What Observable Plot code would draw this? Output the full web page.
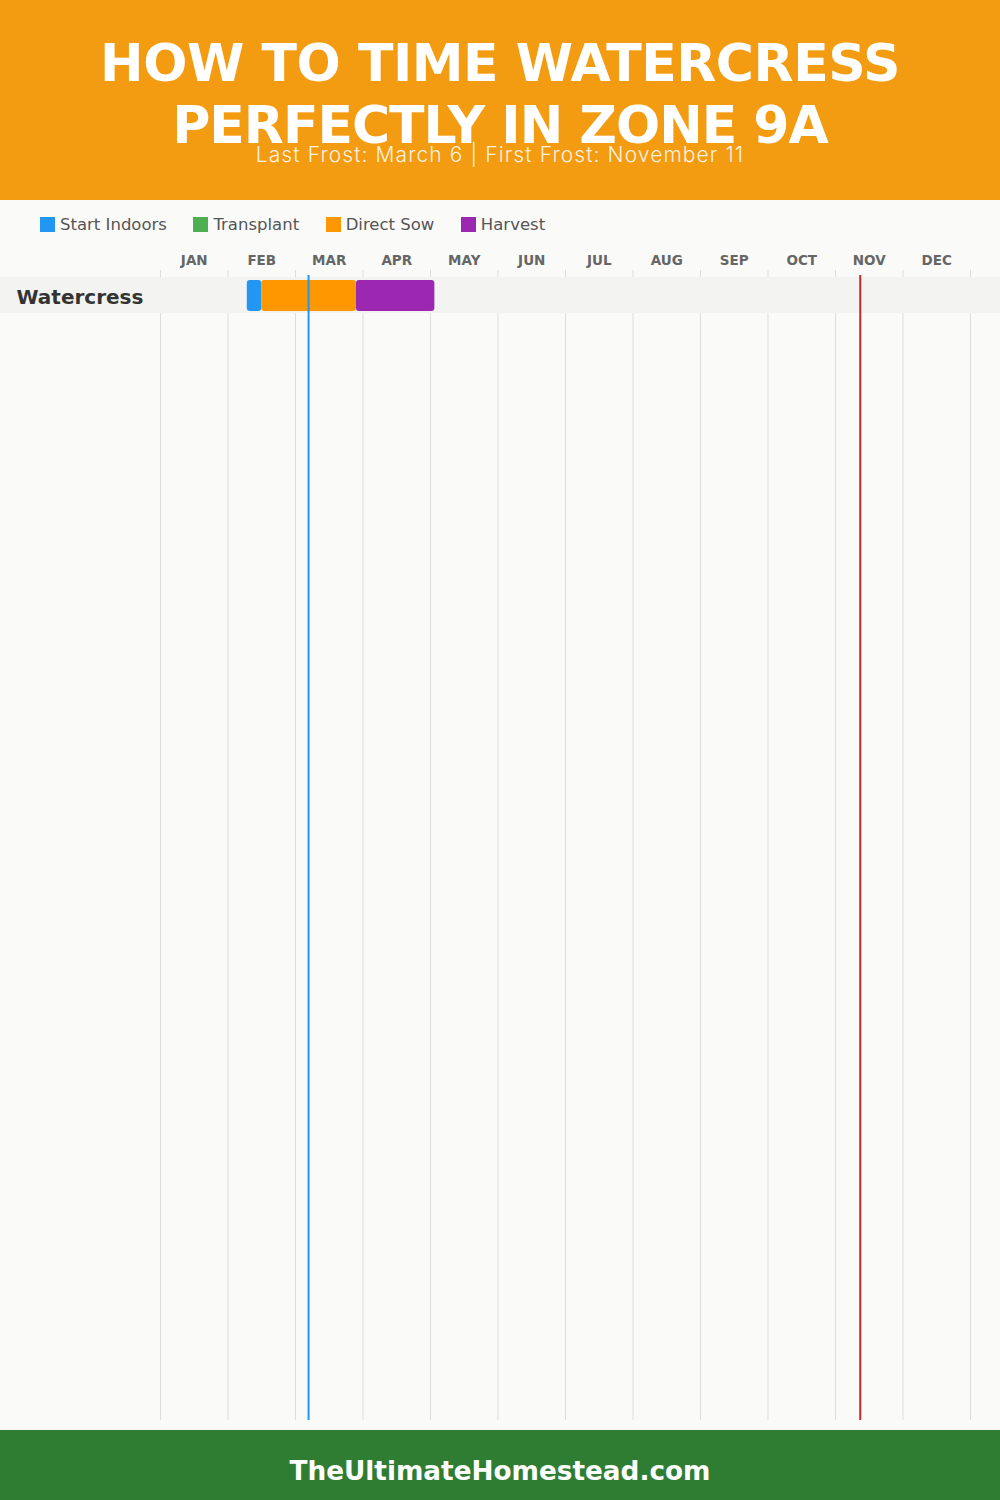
<!DOCTYPE html>
<html>
<head>
<meta charset="utf-8">
<script src="https://cdn.jsdelivr.net/npm/d3@7"></script>
<script src="https://cdn.jsdelivr.net/npm/@observablehq/plot@0.6"></script>
<style>
  html, body { margin: 0; padding: 0; background: #fafaf9; }
  #page { width: 1000px; }
  #header { position: relative; height: 200px; background: #F39C12; }
  .tl { position: absolute; left: 0; right: 0; text-align: center;
    font-family: "DejaVu Sans"; font-weight: bold; font-size: 52px; line-height: 40px;
    color: #fff; white-space: nowrap; }
  #t1 { top: 43px; letter-spacing: -0.45px; }
  #t2 { top: 105px; letter-spacing: -1px; }
  #subtitle { position: absolute; top: 146px; left: 0; right: 0; text-align: center;
    font-family: "Inter"; font-weight: 300; font-size: 21px; line-height: 18px; letter-spacing: 1.1px;
    color: rgba(255,255,255,0.88); white-space: nowrap; }
  #legend { height: 50px; box-sizing: border-box; padding: 17px 0 0 40px; display: flex; gap: 26.5px;
    font-family: "DejaVu Sans"; font-size: 16.5px; color: #555; }
  .item { display: flex; align-items: center; height: 15px; }
  .sw { width: 15px; height: 15px; margin-right: 5px; }
  #chart svg { display: block; }
  #footer { height: 70px; background: #2E7D32; color: #fff; text-align: center;
    font-family: "DejaVu Sans"; font-weight: bold; font-size: 26.3px; line-height: 70px; }
  #footer span { position: relative; top: 6px; }
</style>
</head>
<body>
<div id="page">
  <div id="header">
    <div class="tl" id="t1">HOW TO TIME WATERCRESS</div>
    <div class="tl" id="t2">PERFECTLY IN ZONE 9A</div>
    <div id="subtitle">Last Frost: March 6 | First Frost: November 11</div>
  </div>
  <div id="legend"></div>
  <div id="chart"></div>
  <div id="footer"><span>TheUltimateHomestead.com</span></div>
</div>
<script>
// ---- data ----
const months = ["JAN","FEB","MAR","APR","MAY","JUN","JUL","AUG","SEP","OCT","NOV","DEC"];
const daysInMonth = [31,28,31,30,31,30,31,31,30,31,30,31];
const phases = ["Start Indoors","Transplant","Direct Sow","Harvest"];
const phaseColors = ["#2196F3","#4CAF50","#FF9800","#9C27B0"];
const crops = ["Watercress"];
const segCrop = ["Watercress","Watercress","Watercress"];
const segPhase = ["Start Indoors","Direct Sow","Harvest"];
const segStart = ["02-08","02-14","03-28"];
const segEnd = ["02-14","03-28","05-02"];
const frostNames = ["Last Frost","First Frost"];
const frostDates = ["03-06","11-11"];
const frostColors = ["#2196F3","#C62828"];

// month-day string -> position in months
const pos = md => { const [m, d] = md.split("-").map(Number); return (m - 1) + d / daysInMonth[m - 1]; };

const segments = segCrop.map((c, i) => ({crop: c, phase: segPhase[i], x1: pos(segStart[i]), x2: pos(segEnd[i])}));
const frosts = frostNames.map((n, i) => ({name: n, x: pos(frostDates[i]), color: frostColors[i]}));
const monthTicks = d3.range(months.length + 1);
const monthCenters = months.map((m, i) => ({label: m, x: i + 0.5}));

// legend
const legend = document.getElementById("legend");
phases.forEach((p, i) => {
  const it = document.createElement("div"); it.className = "item";
  const sw = document.createElement("div"); sw.className = "sw"; sw.style.background = phaseColors[i];
  const tx = document.createElement("span"); tx.textContent = p;
  it.append(sw, tx); legend.append(it);
});

const chart = Plot.plot({
  width: 1000,
  height: 1180,
  marginLeft: 160,
  marginRight: 30,
  marginTop: 20,
  marginBottom: 10,
  style: {background: "transparent", fontFamily: "DejaVu Sans", overflow: "visible"},
  x: {domain: [0, months.length], axis: null},
  y: {domain: crops, range: [27, 63], padding: 0, axis: null},
  color: {domain: phases, range: phaseColors},
  marks: [
    Plot.ruleX(monthTicks, {x: d => d, stroke: "#dddddd", strokeWidth: 1}),
    Plot.barX(crops, {y: d => d, x1: () => 0, x2: () => months.length, fill: "#f3f3f1",
      insetLeft: -160, insetRight: -30}),
    Plot.barX(segments, {y: "crop", x1: "x1", x2: "x2", fill: "phase", rx: 3, insetTop: 3, insetBottom: 2}),
    Plot.ruleX(frosts, {x: "x", stroke: "color", strokeWidth: 2, insetTop: 5}),
    Plot.text(monthCenters, {x: "x", text: "label", frameAnchor: "top", lineAnchor: "middle", dy: -10,
      fontSize: 13.5, fontWeight: "bold", fill: "#666", letterSpacing: 0.5}),
    Plot.text(crops, {y: d => d, text: d => d, frameAnchor: "left", textAnchor: "start", dx: -144, dy: 2,
      fontSize: 20, fontWeight: "bold", fill: "#333"})
  ]
});
document.getElementById("chart").append(chart);
</script>
</body>
</html>
